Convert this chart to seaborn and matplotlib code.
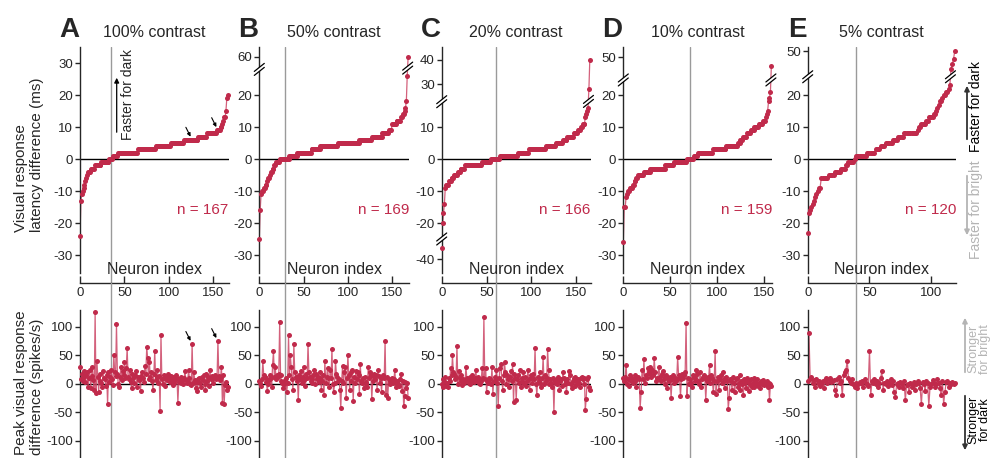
import numpy as np
import pandas as pd
import matplotlib
matplotlib.use('Agg')
import matplotlib.pyplot as plt
import seaborn as sns
from matplotlib.patches import Polygon

W, H = 992, 458
sns.set_style('ticks')
plt.rcParams['font.family'] = ['Liberation Sans', 'DejaVu Sans']
plt.rcParams['axes.unicode_minus'] = False

CRIMSON = '#c02a4b'
LINE_C = '#cc4565'

panel_letters = ['A', 'B', 'C', 'D', 'E']
contrasts = ['100% contrast', '50% contrast', '20% contrast', '10% contrast', '5% contrast']
n_cells = [167, 169, 166, 159, 120]
zero_cross = [35, 29.4, 60, 71.4, 38.9]
marked_neurons = [126, 155]

# ---- latency difference (ms), sorted ----
lat_A = [-24, -13, -11, -10, -9, -8, -7, -6, -5, -4,
         -4, -4, -3, -3, -3, -3, -3, -2, -2, -2,
         -2, -2, -2, -2, -1, -1, -1, -1, -1, -1,
         -1, -1, -1, 0, 0, 0, 0, 1, 1, 1,
         1, 1, 1, 2, 2, 2, 2, 2, 2, 2,
         2, 2, 2, 2, 2, 2, 2, 2, 2, 2,
         2, 2, 2, 2, 2, 3, 3, 3, 3, 3,
         3, 3, 3, 3, 3, 3, 3, 3, 3, 3,
         3, 3, 3, 3, 3, 4, 4, 4, 4, 4,
         4, 4, 4, 4, 4, 4, 4, 4, 4, 4,
         4, 4, 5, 5, 5, 5, 5, 5, 5, 5,
         5, 5, 5, 5, 5, 5, 5, 6, 6, 6,
         6, 6, 6, 6, 6, 6, 6, 6, 6, 6,
         6, 6, 6, 7, 7, 7, 7, 7, 7, 7,
         7, 7, 7, 8, 8, 8, 8, 8, 8, 8,
         8, 8, 8, 8, 9, 9, 9, 9, 10, 10,
         11, 12, 13, 13, 15, 19, 20]
lat_B = [-25, -16, -11, -10, -10, -9, -9, -8, -8, -7,
         -6, -6, -5, -4, -4, -3, -3, -2, -2, -1,
         -1, -1, -1, 0, 0, 0, 0, 0, 0, 0,
         0, 0, 0, 0, 1, 1, 1, 1, 1, 1,
         1, 1, 1, 2, 2, 2, 2, 2, 2, 2,
         2, 2, 2, 2, 2, 2, 2, 2, 2, 3,
         3, 3, 3, 3, 3, 3, 3, 3, 3, 4,
         4, 4, 4, 4, 4, 4, 4, 4, 4, 4,
         4, 4, 4, 4, 4, 4, 4, 4, 4, 5,
         5, 5, 5, 5, 5, 5, 5, 5, 5, 5,
         5, 5, 5, 5, 5, 5, 5, 5, 5, 5,
         5, 5, 5, 6, 6, 6, 6, 6, 6, 6,
         6, 6, 6, 6, 6, 6, 6, 7, 7, 7,
         7, 7, 7, 7, 7, 7, 7, 7, 7, 8,
         8, 8, 8, 8, 8, 8, 9, 9, 9, 9,
         11, 11, 11, 11, 11, 12, 12, 12, 12, 12,
         13, 13, 14, 14, 15, 16, 18, 26, 58]
lat_C = [-33, -20, -17, -14, -9, -8, -8, -8, -7, -7,
         -7, -6, -6, -6, -5, -5, -5, -5, -4, -4,
         -4, -3, -3, -3, -3, -3, -2, -2, -2, -2,
         -2, -2, -2, -2, -2, -2, -2, -2, -2, -2,
         -2, -2, -2, -2, -2, -1, -1, -1, -1, -1,
         -1, -1, -1, -1, -1, 0, 0, 0, 0, 0,
         0, 0, 0, 0, 0, 1, 1, 1, 1, 1,
         1, 1, 1, 1, 1, 1, 1, 1, 1, 1,
         1, 1, 1, 1, 1, 2, 2, 2, 2, 2,
         2, 2, 2, 2, 2, 2, 2, 3, 3, 3,
         3, 3, 3, 3, 3, 3, 3, 3, 3, 3,
         3, 3, 3, 3, 3, 3, 4, 4, 4, 4,
         4, 4, 4, 4, 4, 4, 4, 5, 5, 5,
         5, 5, 5, 5, 5, 6, 6, 6, 6, 6,
         7, 7, 7, 7, 7, 7, 7, 8, 8, 8,
         8, 8, 9, 9, 9, 10, 10, 11, 11, 11,
         13, 14, 15, 16, 27, 40]
lat_D = [-26, -15, -15, -12, -11, -10, -10, -9, -9, -9,
         -8, -8, -7, -7, -6, -6, -5, -5, -5, -5,
         -5, -5, -4, -4, -4, -4, -4, -4, -4, -3,
         -3, -3, -3, -3, -3, -3, -3, -3, -3, -3,
         -3, -3, -3, -3, -3, -2, -2, -2, -2, -2,
         -2, -2, -2, -2, -1, -1, -1, -1, -1, -1,
         -1, -1, -1, -1, -1, -1, -1, -1, 0, 0,
         0, 0, 0, 0, 0, 1, 1, 1, 1, 1,
         2, 2, 2, 2, 2, 2, 2, 2, 2, 2,
         2, 2, 2, 2, 2, 2, 3, 3, 3, 3,
         3, 3, 3, 3, 3, 3, 3, 3, 3, 3,
         4, 4, 4, 4, 4, 4, 4, 4, 4, 4,
         4, 4, 5, 5, 5, 6, 6, 6, 7, 7,
         7, 7, 8, 8, 8, 8, 9, 9, 9, 9,
         10, 10, 10, 10, 10, 11, 11, 11, 11, 12,
         12, 12, 13, 14, 15, 18, 19, 21, 41]
lat_E = [-23, -17, -16, -15, -14, -13, -12, -11, -10, -9,
         -9, -6, -6, -6, -6, -6, -6, -5, -5, -5,
         -5, -5, -4, -4, -4, -4, -4, -3, -3, -3,
         -3, -2, -2, -1, -1, -1, -1, -1, 0, 1,
         1, 1, 1, 1, 1, 1, 1, 1, 2, 2,
         2, 2, 2, 2, 2, 3, 3, 3, 3, 4,
         4, 4, 4, 5, 5, 5, 5, 5, 5, 6,
         6, 6, 6, 7, 7, 7, 7, 7, 8, 8,
         8, 8, 8, 8, 8, 8, 8, 8, 8, 9,
         10, 10, 11, 11, 11, 11, 12, 12, 13, 13,
         13, 13, 14, 14, 15, 16, 17, 18, 18, 19,
         20, 20, 21, 21, 22, 23, 32, 37, 42, 50]

# ---- peak visual response difference (spikes/s), same neuron order ----
peak_A = [29, 8, 18, 5, 22, 12, 3, 15, 20, -5,
          10, 25, -8, 14, 30, 6, -10, 126, -16, 40,
          12, -14, 18, 5, 2, -6, 22, 10, 8, -4,
          16, -36, 20, 4, 12, 25, 8, -2, 51, 20,
          14, 105, 18, 0, -5, 12, 30, 6, 22, 15,
          38, 10, 28, 63, 12, 8, 25, 4, -8, 18,
          10, 2, 15, 22, -5, 12, 6, 8, -12, 14,
          20, 10, 4, 32, 18, 65, 45, 8, 38, 12,
          20, 5, -10, 18, 58, 6, 12, 25, 2, 14,
          -47, 86, 8, 0, 15, 10, -4, 12, 6, 18,
          10, 4, 14, 8, -2, 12, 2, 6, 16, 10,
          -33, 4, 8, 12, 2, 5, 0, 10, 22, 6,
          1, 4, 25, 10, 0, -2, 70, 2, 20, 6,
          -8, 4, -12, 8, 10, 2, -5, 12, 6, 15,
          0, -10, 18, 5, 12, -4, 25, 8, 14, 10,
          2, 12, 15, 8, 10, 75, 14, 6, 12, 30,
          -34, 15, -36, -2, 4, -10, -6]
peak_B = [5, 2, -3, 8, 40, 15, 12, 10, 4, -12,
          0, 6, 15, 10, -5, 34, 57, 12, 30, 8,
          15, 12, 18, 108, 15, 5, 2, -8, 0, 6,
          10, -14, 2, 85, 15, 51, 30, 8, -10, 70,
          20, 12, 5, 10, -29, 15, 8, 22, 2, 12,
          30, 6, -4, 18, 10, 70, 20, 12, 5, 8,
          2, 15, 25, 0, 18, 8, 12, 4, 10, 20,
          -10, 5, 15, -20, 40, 2, 12, 28, 10, -5,
          25, 10, 62, 0, -15, 2, 40, 18, 12, 5,
          8, -10, -43, 5, 32, 2, 20, 30, -25, 10,
          50, 15, -10, 20, 5, 25, -30, 12, 2, 22,
          8, 20, 15, -18, 35, 5, 2, 10, -8, 12,
          4, 0, -5, 30, 10, 20, 15, -27, 5, 18,
          12, 8, 15, -10, 25, 14, 2, 10, -15, 12,
          15, 10, 76, -20, 12, -25, 8, 5, 0, 4,
          10, 2, 8, 25, -5, 2, 5, 0, -4, 8,
          18, -12, 5, -39, -22, 4, -8, 2, -24]
peak_C = [0, 8, -5, 5, 12, -3, 2, -6, 10, 5,
          28, 15, 50, 20, 18, 8, 12, 66, 0, 22,
          10, 15, 5, -2, 8, 2, 5, 30, 10, 6,
          2, 12, 0, 5, 15, 8, 3, 10, 25, 5,
          12, 2, 8, 0, 5, 28, 10, 117, 8, 28,
          -15, 5, 2, 10, 8, 0, 30, -18, 5, 12,
          8, 25, 2, -38, 10, 28, 35, 5, -10, 15,
          38, 20, 0, 15, 8, -5, 12, 22, 5, 35,
          -32, 18, 10, -28, 8, 15, 2, 25, -5, 10,
          5, 20, 0, 12, -3, 5, 25, 8, -10, 15,
          10, 2, 18, 8, 63, 0, -20, 12, 5, 20,
          2, -5, 10, 48, 0, 15, 5, 10, 61, 25,
          0, 8, 2, -5, 10, -50, 5, 2, 8, 0,
          12, -10, 5, 8, -3, 20, 10, 0, 5, -15,
          8, 2, 22, 15, 0, -8, 5, 10, -3, 12,
          5, 0, 8, 2, -5, 10, 12, 8, 0, 10,
          -45, -26, 8, 12, -5, -10]
peak_D = [10, 5, 12, 34, 0, 8, -3, 15, 5, 10,
          2, 8, 5, 15, -5, 10, 12, 8, -42, -15,
          25, 8, 43, 2, 15, 10, 28, 20, 30, 18,
          12, 25, 15, 45, 20, 5, 10, 8, 30, 12,
          5, 18, 22, 8, 0, 12, 15, -8, 10, 5,
          12, -25, 8, 15, 2, 10, 5, 8, 47, 15,
          12, -22, 8, 18, 10, 15, 20, 107, -22, 10,
          0, 8, 2, -5, 15, 12, 5, 10, 25, 18,
          5, 0, 20, -5, 8, 12, 15, 10, -28, 5,
          12, 8, 33, 2, 15, 10, -15, 5, 58, -18,
          5, 12, -10, 8, 15, 2, 20, 5, -8, 10,
          12, 5, -44, -25, 8, 5, -10, 12, 2, -15,
          8, 10, -5, 2, 15, -10, 5, 0, -20, 8,
          2, -8, 10, 5, -12, 0, 8, -5, 2, 10,
          -5, 5, 0, 8, -3, 2, -8, 5, 0, 6,
          -2, 4, 0, 5, -5, 2, -28, 0, -3]
peak_E = [5, 90, 8, 12, 2, 6, -5, 8, 2, 5,
          -3, 0, 5, -8, 6, 10, 2, 8, 10, 4,
          5, 6, -10, -20, 8, 12, 2, 5, -20, 15,
          20, 25, 41, 10, 5, 2, 8, 0, -5, 2,
          -8, 0, 4, 2, 5, -5, 8, 2, 0, -3,
          58, -20, 5, 2, 8, 0, 5, -5, 2, 10,
          22, -10, 2, 0, 5, -3, 2, 8, -2, 5,
          -15, -23, 0, 2, -5, 3, 0, -8, 5, -29,
          -2, 0, -15, 2, -5, 0, 3, -10, 0, 5,
          2, -8, -36, 3, 0, -12, 5, 2, -39, -5,
          0, 6, 2, -5, 0, 8, 2, -8, -20, 5,
          -35, -15, 3, 5, -5, 2, 0, 4, 0, 2]

lat_all = [lat_A, lat_B, lat_C, lat_D, lat_E]
peak_all = [peak_A, peak_B, peak_C, peak_D, peak_E]

lat_ticks = [[30, 20, 10, 0, -10, -20, -30],
             [60, 20, 10, 0, -10, -20, -30],
             [40, 30, 10, 0, -10, -20, -40],
             [50, 20, 10, 0, -10, -20, -30],
             [50, 20, 10, 0, -10, -20, -30]]
x_ticks = [[0, 50, 100, 150]] * 4 + [[0, 50, 100]]
peak_ticks = [100, 50, 0, -50, -100]

# broken-axis scales: (data knots, drawn-position knots)
scale_knots = [
    ([-1000, 1000], [-1000, 1000]),
    ([-1000, 27, 30, 60, 1000], [-1000, 27, 29, 32, 126]),
    ([-1000, -40, -30, -22, 17, 20, 30, 40, 1000],
     [-511.25, -31.25, -26.25, -22, 17, 18.2, 23.4, 31, 760.6]),
    ([-1000, 23, 30, 50, 1000], [-1000, 23, 26, 31.8, 307.3]),
    ([-1000, 24, 30, 50, 1000], [-1000, 24, 27.5, 33.75, 330.6]),
]
# axis breaks (drawn position) and data-line breaks (index, drawn position)
axis_breaks = [[], [28.0], [17.9, -25.0], [24.7], [25.7]]
line_breaks = [[], [(167.5, 28.4)], [(163.5, 18.0)], [(157.5, 24.7)], [(115.5, 25.7)]]

lefts = [80, 259.3, 441.7, 623.3, 807.7]
rights = [228.6, 409, 590.7, 772.3, 956]
TOP_T, TOP_B, BOT_B = 47, 283, 458
D_LO, D_HI = -38.75, 35.0

fig = plt.figure(figsize=(W / 100, H / 100), dpi=100)


def fx(x):
    return x / W


def fy(y):
    return 1 - y / H


def make_funcs(dk, pk):
    dk = np.asarray(dk, float)
    pk = np.asarray(pk, float)

    def fwd(v):
        return np.interp(np.asarray(v, float), dk, pk)

    def inv(v):
        return np.interp(np.asarray(v, float), pk, dk)
    return fwd, inv


def draw_break(ax, xf, yf, wpx, hpx):
    # two parallel slashes with white gap, in axes-fraction coordinates
    def P(dx, dy):
        return (xf + dx / wpx, yf + dy / hpx)
    poly = Polygon([P(-5, -6), P(5, 2), P(5, 6), P(-5, -2)], closed=True,
                   facecolor='white', edgecolor='none', transform=ax.transAxes,
                   clip_on=False, zorder=8)
    ax.add_patch(poly)
    for a, b in [((-5, -6), (5, 2)), ((-5, -2), (5, 6))]:
        p1, p2 = P(*a), P(*b)
        ax.plot([p1[0], p2[0]], [p1[1], p2[1]], color='k', lw=0.9,
                transform=ax.transAxes, clip_on=False, zorder=9)


for k in range(5):
    L, R = lefts[k], rights[k]
    n = n_cells[k]
    idx = np.arange(n)
    lat = np.asarray(lat_all[k])
    peak = np.asarray(peak_all[k])
    wpx = R - L

    # ---------- top: latency ----------
    hpx = TOP_B - TOP_T
    ax = fig.add_axes([fx(L), fy(TOP_B), (R - L) / W, hpx / H])
    fwd, inv = make_funcs(*scale_knots[k])
    ax.set_yscale('function', functions=(fwd, inv))
    df = pd.DataFrame({'neuron': idx, 'lat': lat})
    ax.axhline(0, color='k', lw=1.0, zorder=1)
    ax.axvline(zero_cross[k], color='#9a9a9a', lw=1.0, zorder=0.5)
    sns.lineplot(data=df, x='neuron', y='lat', ax=ax, color=LINE_C, lw=0.9,
                 alpha=0.85, estimator=None, sort=False, legend=False, zorder=2)
    sns.scatterplot(data=df, x='neuron', y='lat', ax=ax, color=CRIMSON, s=13,
                    linewidth=0, legend=False, zorder=3, clip_on=False)
    ax.set_xlim(0, n)
    ax.set_ylim(float(inv(D_LO)), float(inv(D_HI)))
    ax.set_yticks(lat_ticks[k])
    ax.set_yticklabels([str(t) for t in lat_ticks[k]])
    ax.set_xticks(x_ticks[k])
    ax.set_xticklabels([str(t) for t in x_ticks[k]])
    ax.set_xlabel('')
    ax.set_ylabel('')
    for s in ['top', 'right']:
        ax.spines[s].set_visible(False)
    ax.spines['left'].set_bounds(float(inv(-35.6)), float(inv(D_HI)))
    ax.spines['left'].set_linewidth(1.0)
    ax.spines['bottom'].set_linewidth(1.0)
    ax.tick_params(axis='x', direction='in', length=5, width=1.0, pad=3,
                   labelsize=9.5)
    ax.tick_params(axis='y', direction='out', length=3.5, width=1.0, pad=1.5,
                   labelsize=9.5)
    ax.text(0.5, 9.5 / hpx, 'Neuron index', transform=ax.transAxes,
            ha='center', va='baseline', fontsize=11.5)
    ax.text(1.0, (TOP_B - 214) / hpx, f'n = {n}', transform=ax.transAxes,
            ha='right', va='baseline', fontsize=11, color=CRIMSON)
    for d in axis_breaks[k]:
        draw_break(ax, 0.0, (d - D_LO) / (D_HI - D_LO), wpx, hpx)
    for (xi, d) in line_breaks[k]:
        draw_break(ax, xi / n, (d - D_LO) / (D_HI - D_LO), wpx, hpx)

    fig.text(fx(L - 1), fy(37), panel_letters[k], ha='right', va='baseline',
             fontsize=20, fontweight='bold')
    fig.text(fx((L + R) / 2), fy(37), contrasts[k], ha='center',
             va='baseline', fontsize=11.5)

    if k == 0:
        for m in marked_neurons:
            ax.annotate('', xy=(m, lat[m]), xytext=(-4.5, 9),
                        textcoords='offset points',
                        arrowprops=dict(arrowstyle='-|>', color='k', lw=0.8,
                                        mutation_scale=5, shrinkA=0,
                                        shrinkB=2.5))
        fig.text(fx(127.5), fy(95), 'Faster for dark', rotation=90,
                 ha='center', va='center', fontsize=10)
        fig.add_artist(matplotlib.patches.FancyArrowPatch(
            (fx(116.7), fy(135)), (fx(116.7), fy(75)),
            transform=fig.transFigure, arrowstyle='-|>', mutation_scale=7,
            color='k', lw=0.9))

    # ---------- bottom: peak response ----------
    bx = fig.add_axes([fx(L), fy(BOT_B), (R - L) / W, (BOT_B - TOP_B) / H])
    bx.patch.set_visible(False)
    dfp = pd.DataFrame({'neuron': idx, 'peak': peak})
    bx.axhline(0, color='k', lw=1.0, zorder=1)
    bx.axvline(zero_cross[k], color='#9a9a9a', lw=1.0, zorder=0.5)
    sns.lineplot(data=dfp, x='neuron', y='peak', ax=bx, color=LINE_C, lw=0.9,
                 alpha=0.85, estimator=None, sort=False, legend=False, zorder=2)
    sns.scatterplot(data=dfp, x='neuron', y='peak', ax=bx, color=CRIMSON, s=13,
                    linewidth=0, legend=False, zorder=3, clip_on=False)
    bx.set_xlim(0, n)
    bx.set_ylim(-130, 177)
    bx.set_yticks(peak_ticks)
    bx.set_yticklabels([str(t) for t in peak_ticks])
    bx.set_xticks([])
    bx.set_xlabel('')
    bx.set_ylabel('')
    for s in ['top', 'right', 'bottom']:
        bx.spines[s].set_visible(False)
    bx.spines['left'].set_bounds(-130, 130)
    bx.spines['left'].set_linewidth(1.0)
    bx.tick_params(axis='y', direction='out', length=3.5, width=1.0, pad=1.5,
                   labelsize=9.5)
    if k == 0:
        for m in marked_neurons:
            bx.annotate('', xy=(m, peak[m]), xytext=(-4.5, 9),
                        textcoords='offset points',
                        arrowprops=dict(arrowstyle='-|>', color='k', lw=0.8,
                                        mutation_scale=5, shrinkA=0,
                                        shrinkB=2.5))

# y labels
fig.text(fx(29), fy(155), 'Visual response\nlatency difference (ms)',
         rotation=90, ha='center', va='center', multialignment='left',
         fontsize=11)
fig.text(fx(29), fy(383), 'Peak visual response\ndifference (spikes/s)',
         rotation=90, ha='center', va='center', multialignment='left',
         fontsize=11)

# right-side direction annotations
DARK = '#333333'
LIGHT = '#b4b4b4'


def farrow(x, y0, y1, color):
    fig.add_artist(matplotlib.patches.FancyArrowPatch(
        (fx(x), fy(y0)), (fx(x), fy(y1)), transform=fig.transFigure,
        arrowstyle='-|>', mutation_scale=7, color=color, lw=1.3))


fig.text(fx(976), fy(106), 'Faster for dark', rotation=90, ha='center',
         va='center', fontsize=10, color='k')
farrow(967, 142, 83, DARK)
fig.text(fx(976), fy(210), 'Faster for bright', rotation=90, ha='center',
         va='center', fontsize=10, color=LIGHT)
farrow(967, 173, 238, LIGHT)
fig.text(fx(979.5), fy(349), 'Stronger\nfor bright', rotation=90, ha='center',
         va='center', fontsize=9, linespacing=0.95, color=LIGHT)
farrow(965, 375, 315, LIGHT)
fig.text(fx(979.5), fy(420), 'Stronger\nfor dark', rotation=90, ha='center',
         va='center', fontsize=9, linespacing=0.95, color='k')
farrow(965, 393, 453, DARK)

fig.savefig('out.png', dpi=100)
